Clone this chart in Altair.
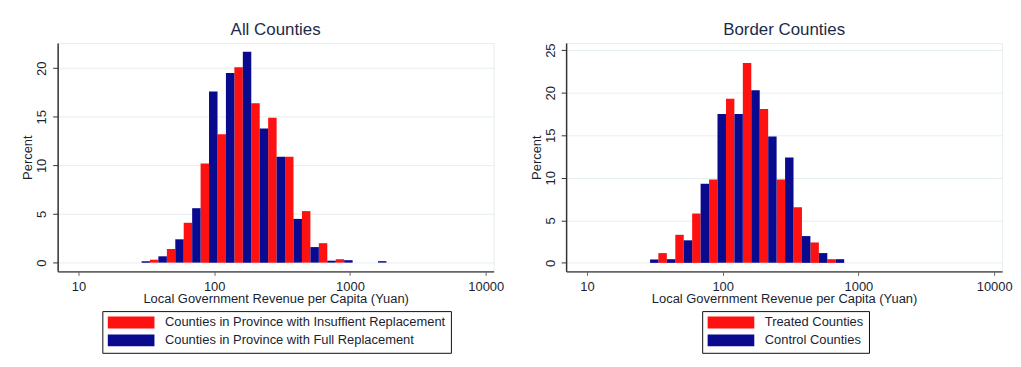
import altair as alt
import pandas as pd

# Histogram bin edges (Yuan), equal width on a log scale
edges = [29.2, 33.6, 38.8, 44.8, 51.7, 59.6, 68.8, 79.4, 91.6, 105.8, 122.0,
         140.8, 162.5, 187.5, 216.4, 249.7, 288.2, 332.6, 383.8, 442.9, 511.2,
         589.9, 680.8, 785.6, 906.6, 1046.2, 1207.3, 1393.2, 1607.7, 1855.3, 2141.0]

# Left panel: All Counties
all_labels = ["Counties in Province with Insuffient Replacement",
              "Counties in Province with Full Replacement"]
all_insuff_bins = [1, 3, 5, 7, 9, 11, 13, 15, 17, 19, 21, 23]
all_insuff_pct = [0.3, 1.4, 4.1, 10.2, 13.2, 20.1, 16.4, 14.9, 10.9, 5.3, 2.0, 0.35]
all_full_bins = [0, 2, 4, 6, 8, 10, 12, 14, 16, 18, 20, 22, 24, 28]
all_full_pct = [0.15, 0.65, 2.4, 5.6, 17.6, 19.5, 21.7, 13.8, 10.9, 4.5, 1.6, 0.2, 0.25, 0.15]

# Right panel: Border Counties
border_labels = ["Treated Counties", "Control Counties"]
border_treated_bins = [1, 3, 5, 7, 9, 11, 13, 15, 17, 19, 21]
border_treated_pct = [1.15, 3.3, 5.8, 9.8, 19.3, 23.5, 18.1, 9.8, 6.55, 2.4, 0.43]
border_control_bins = [0, 2, 4, 6, 8, 10, 12, 14, 16, 18, 20, 22]
border_control_pct = [0.4, 0.43, 2.65, 9.3, 17.5, 17.5, 20.3, 14.85, 12.4, 3.15, 1.15, 0.43]

x_ticks = [10, 100, 1000, 10000]
RED = "#fe1111"
BLUE = "#0a0a8e"
TXT = "#1a1f33"


def make_df(label_a, bins_a, pct_a, label_b, bins_b, pct_b):
    rows = []
    for lab, bins, pcts in ((label_a, bins_a, pct_a), (label_b, bins_b, pct_b)):
        for k, p in zip(bins, pcts):
            rows.append({"lo": edges[k], "hi": edges[k + 1], "series": lab, "pct": p})
    return pd.DataFrame(rows)


def panel(df, title, labels, ydom, yvals, legend_x):
    color = alt.Color(
        "series:N",
        scale=alt.Scale(domain=labels, range=[RED, BLUE]),
        legend=alt.Legend(
            title=None, orient="none", legendX=legend_x, legendY=270,
            direction="vertical",
            symbolType="M-1,-1L6.83,-1L6.83,1L-1,1Z",
            symbolSize=144, symbolStrokeWidth=0, symbolOpacity=1,
            labelFontSize=13, labelColor=TXT, labelLimit=500, labelOffset=45,
            strokeColor="#111111", fillColor="white", padding=5, rowPadding=4,
        ),
    )
    return alt.Chart(df).mark_bar(opacity=1).encode(
        x=alt.X("lo:Q",
                scale=alt.Scale(type="log", domain=[7.03, 11430], nice=False),
                axis=alt.Axis(values=x_ticks, format="d",
                              title="Local Government Revenue per Capita (Yuan)",
                              grid=False, tickSize=4, tickColor="#666666",
                              domainColor="#666666", domainWidth=2,
                              labelFontSize=13, labelColor=TXT, labelPadding=5,
                              labelFlush=False, titleFontSize=13, titleColor=TXT,
                              titleFontWeight="normal", titlePadding=-1)),
        x2="hi:Q",
        y=alt.Y("pct:Q",
                scale=alt.Scale(domain=ydom, nice=False, zero=False),
                axis=alt.Axis(values=yvals, title="Percent", labelAngle=270,
                              grid=True, gridColor="#e6eef0", tickSize=5,
                              tickColor="#333333", domainColor="#333333",
                              domainWidth=1.5, labelFontSize=13, labelColor=TXT,
                              labelPadding=4, titleFontSize=13, titleColor=TXT,
                              titleFontWeight="normal", titlePadding=1)),
        y2=alt.datum(0),
        color=color,
    ).properties(
        width=439, height=230,
        title=alt.TitleParams(title, fontSize=17, fontWeight="normal",
                              color="#1c2b48", offset=4, anchor="middle"),
    )


left = panel(make_df(all_labels[0], all_insuff_bins, all_insuff_pct,
                     all_labels[1], all_full_bins, all_full_pct),
             "All Counties", all_labels, [-0.9, 22.6], [0, 5, 10, 15, 20], 45)
right = panel(make_df(border_labels[0], border_treated_bins, border_treated_pct,
                      border_labels[1], border_control_bins, border_control_pct),
              "Border Counties", border_labels, [-1.0, 25.85], [0, 5, 10, 15, 20, 25], 137)

chart = alt.hconcat(left, right, spacing=25).resolve_scale(
    color="independent", y="independent", x="independent"
).properties(
    padding={"left": 13, "top": 11, "right": 0, "bottom": 0},
    background="white",
).configure(font="Liberation Sans").configure_view(stroke="#e6eef0")

chart.save("out.html", embed_options={"renderer": "svg", "actions": False})
